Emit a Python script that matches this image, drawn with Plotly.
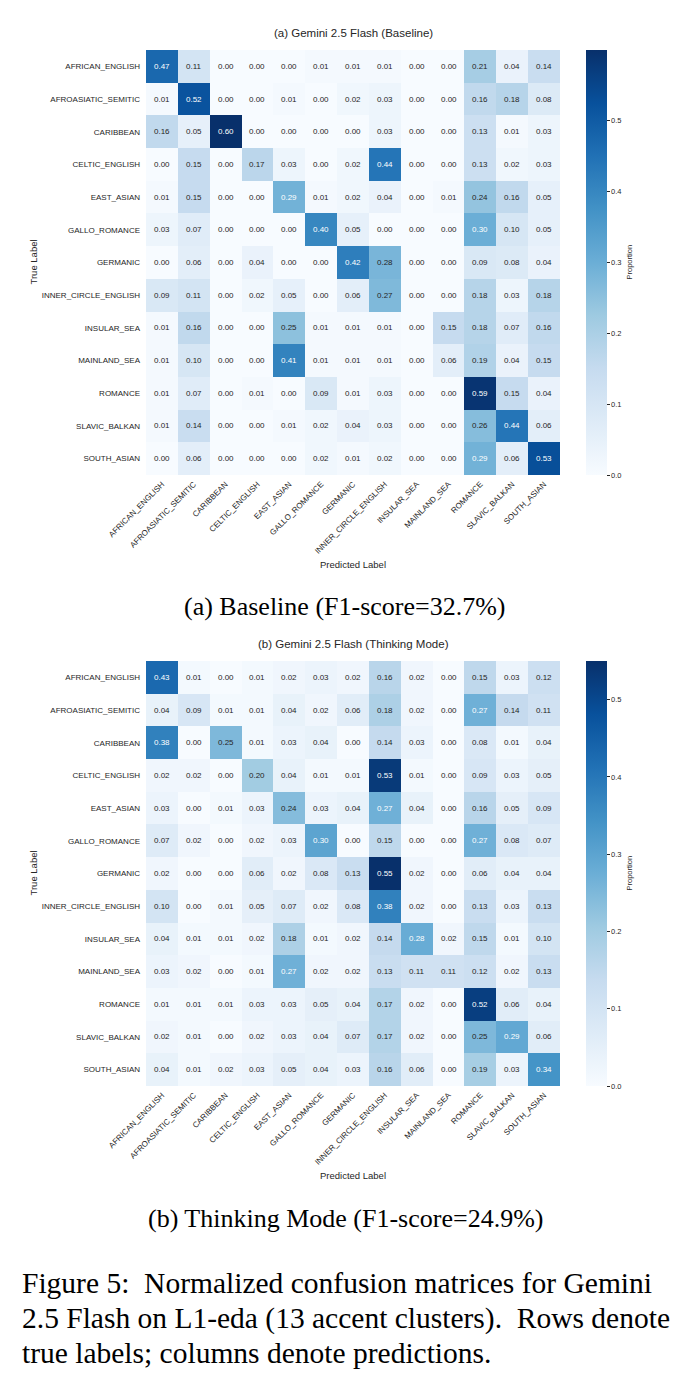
import plotly.graph_objects as go

W, H = 689, 1386

labels = ["AFRICAN_ENGLISH", "AFROASIATIC_SEMITIC", "CARIBBEAN", "CELTIC_ENGLISH",
          "EAST_ASIAN", "GALLO_ROMANCE", "GERMANIC", "INNER_CIRCLE_ENGLISH",
          "INSULAR_SEA", "MAINLAND_SEA", "ROMANCE", "SLAVIC_BALKAN", "SOUTH_ASIAN"]

baseline = [
    [0.47, 0.11, 0.00, 0.00, 0.00, 0.01, 0.01, 0.01, 0.00, 0.00, 0.21, 0.04, 0.14],
    [0.01, 0.52, 0.00, 0.00, 0.01, 0.00, 0.02, 0.03, 0.00, 0.00, 0.16, 0.18, 0.08],
    [0.16, 0.05, 0.60, 0.00, 0.00, 0.00, 0.00, 0.03, 0.00, 0.00, 0.13, 0.01, 0.03],
    [0.00, 0.15, 0.00, 0.17, 0.03, 0.00, 0.02, 0.44, 0.00, 0.00, 0.13, 0.02, 0.03],
    [0.01, 0.15, 0.00, 0.00, 0.29, 0.01, 0.02, 0.04, 0.00, 0.01, 0.24, 0.16, 0.05],
    [0.03, 0.07, 0.00, 0.00, 0.00, 0.40, 0.05, 0.00, 0.00, 0.00, 0.30, 0.10, 0.05],
    [0.00, 0.06, 0.00, 0.04, 0.00, 0.00, 0.42, 0.28, 0.00, 0.00, 0.09, 0.08, 0.04],
    [0.09, 0.11, 0.00, 0.02, 0.05, 0.00, 0.06, 0.27, 0.00, 0.00, 0.18, 0.03, 0.18],
    [0.01, 0.16, 0.00, 0.00, 0.25, 0.01, 0.01, 0.01, 0.00, 0.15, 0.18, 0.07, 0.16],
    [0.01, 0.10, 0.00, 0.00, 0.41, 0.01, 0.01, 0.01, 0.00, 0.06, 0.19, 0.04, 0.15],
    [0.01, 0.07, 0.00, 0.01, 0.00, 0.09, 0.01, 0.03, 0.00, 0.00, 0.59, 0.15, 0.04],
    [0.01, 0.14, 0.00, 0.00, 0.01, 0.02, 0.04, 0.03, 0.00, 0.00, 0.26, 0.44, 0.06],
    [0.00, 0.06, 0.00, 0.00, 0.00, 0.02, 0.01, 0.02, 0.00, 0.00, 0.29, 0.06, 0.53],
]

thinking = [
    [0.43, 0.01, 0.00, 0.01, 0.02, 0.03, 0.02, 0.16, 0.02, 0.00, 0.15, 0.03, 0.12],
    [0.04, 0.09, 0.01, 0.01, 0.04, 0.02, 0.06, 0.18, 0.02, 0.00, 0.27, 0.14, 0.11],
    [0.38, 0.00, 0.25, 0.01, 0.03, 0.04, 0.00, 0.14, 0.03, 0.00, 0.08, 0.01, 0.04],
    [0.02, 0.02, 0.00, 0.20, 0.04, 0.01, 0.01, 0.53, 0.01, 0.00, 0.09, 0.03, 0.05],
    [0.03, 0.00, 0.01, 0.03, 0.24, 0.03, 0.04, 0.27, 0.04, 0.00, 0.16, 0.05, 0.09],
    [0.07, 0.02, 0.00, 0.02, 0.03, 0.30, 0.00, 0.15, 0.00, 0.00, 0.27, 0.08, 0.07],
    [0.02, 0.00, 0.00, 0.06, 0.02, 0.08, 0.13, 0.55, 0.02, 0.00, 0.06, 0.04, 0.04],
    [0.10, 0.00, 0.01, 0.05, 0.07, 0.02, 0.08, 0.38, 0.02, 0.00, 0.13, 0.03, 0.13],
    [0.04, 0.01, 0.01, 0.02, 0.18, 0.01, 0.02, 0.14, 0.28, 0.02, 0.15, 0.01, 0.10],
    [0.03, 0.02, 0.00, 0.01, 0.27, 0.02, 0.02, 0.13, 0.11, 0.11, 0.12, 0.02, 0.13],
    [0.01, 0.01, 0.01, 0.03, 0.03, 0.05, 0.04, 0.17, 0.02, 0.00, 0.52, 0.06, 0.04],
    [0.02, 0.01, 0.00, 0.02, 0.03, 0.04, 0.07, 0.17, 0.02, 0.00, 0.25, 0.29, 0.06],
    [0.04, 0.01, 0.02, 0.03, 0.05, 0.04, 0.03, 0.16, 0.06, 0.00, 0.19, 0.03, 0.34],
]

panel_titles = ["(a) Gemini 2.5 Flash (Baseline)", "(b) Gemini 2.5 Flash (Thinking Mode)"]
subcaptions = ["(a) Baseline (F1-score=32.7%)", "(b) Thinking Mode (F1-score=24.9%)"]
caption_lines = ["Figure 5:  Normalized confusion matrices for Gemini",
                 "2.5 Flash on L1-eda (13 accent clusters).  Rows denote",
                 "true labels; columns denote predictions."]
cbar_ticks = [0.0, 0.1, 0.2, 0.3, 0.4, 0.5]

# matplotlib "Blues"
blues_hex = ["#f7fbff", "#deebf7", "#c6dbef", "#9ecae1", "#6baed6",
             "#4292c6", "#2171b5", "#08519c", "#08306b"]
colorscale = [[i / 8, c] for i, c in enumerate(blues_hex)]


def hex2rgb(h):
    return tuple(int(h[i:i + 2], 16) for i in (1, 3, 5))


def blues(f):
    f = min(max(f, 0), 1) * 8
    i = min(int(f), 7)
    t = f - i
    a, b = hex2rgb(blues_hex[i]), hex2rgb(blues_hex[i + 1])
    return [a[k] + (b[k] - a[k]) * t for k in range(3)]


def lum(rgb):
    out = []
    for c in rgb:
        c = c / 255
        out.append(c / 12.92 if c <= 0.03928 else ((c + 0.055) / 1.055) ** 2.4)
    return 0.2126 * out[0] + 0.7152 * out[1] + 0.0722 * out[2]


DARK = "#262626"
SANS = "Liberation Sans, Arial, sans-serif"
SERIF = "Liberation Serif, Times New Roman, serif"

fig = go.Figure()

# pixel geometry
px_left, px_right = 146, 560
panels = [(50, 475), (661, 1086)]
cb_x = 586

annotations = []
for p, (mat, (top, bot)) in enumerate(zip([baseline, thinking], panels)):
    xa = "x" if p == 0 else "x2"
    ya = "y" if p == 0 else "y2"
    zmax = max(max(r) for r in mat)
    fig.add_trace(go.Heatmap(
        z=mat, x=labels, y=labels, xaxis=xa, yaxis=ya,
        colorscale=colorscale, zmin=0, zmax=zmax,
        hoverinfo="skip",
        colorbar=dict(
            x=cb_x / W, xanchor="left", xpad=0, ypad=0,
            y=1 - (top + bot) / 2 / H, yanchor="middle",
            len=(bot - top) / H, lenmode="fraction",
            thickness=21, outlinewidth=0,
            tickvals=cbar_ticks, ticktext=[f"{v:.1f}" for v in cbar_ticks],
            ticks="outside", ticklen=3, tickwidth=1, tickcolor=DARK,
            tickfont=dict(family=SANS, size=7.5, color=DARK),
        ),
    ))
    for i, row in enumerate(mat):
        for j, v in enumerate(row):
            col = "white" if lum(blues(v / zmax)) < 0.408 else DARK
            annotations.append(dict(
                x=labels[j], y=labels[i], xref=xa, yref=ya, text=f"{v:.2f}",
                showarrow=False, font=dict(family=SANS, size=8, color=col)))
    # panel title
    annotations.append(dict(x=353 / W, y=1 - (top - 17) / H, xref="paper", yref="paper",
                            text=panel_titles[p], showarrow=False, yanchor="middle",
                            font=dict(family=SANS, size=11.5, color=DARK)))
    # axis titles
    annotations.append(dict(x=353 / W, y=1 - (top + 514) / H, xref="paper", yref="paper",
                            text="Predicted Label", showarrow=False, yanchor="middle",
                            font=dict(family=SANS, size=9.5, color=DARK)))
    annotations.append(dict(x=33 / W, y=1 - (top + bot) / 2 / H, xref="paper", yref="paper",
                            text="True Label", showarrow=False, textangle=-90,
                            xanchor="center", yanchor="middle",
                            font=dict(family=SANS, size=9.5, color=DARK)))
    annotations.append(dict(x=629 / W, y=1 - (top + bot) / 2 / H, xref="paper", yref="paper",
                            text="Proportion", showarrow=False, textangle=-90,
                            xanchor="center", yanchor="middle",
                            font=dict(family=SANS, size=7.5, color=DARK)))
    # sub caption
    annotations.append(dict(x=345 / W, y=1 - (top + 557) / H, xref="paper", yref="paper",
                            text=subcaptions[p], showarrow=False, yanchor="middle",
                            font=dict(family=SERIF, size=26, color="black")))

for k, line in enumerate(caption_lines):
    annotations.append(dict(x=20 / W, y=1 - (1283 + 35 * k) / H, xref="paper", yref="paper",
                            text=line, showarrow=False, xanchor="left", yanchor="middle",
                            font=dict(family=SERIF, size=29.5, color="black")))

axis_common = dict(showgrid=False, zeroline=False, showline=False, ticks="",
                   automargin=False,
                   tickfont=dict(family=SANS, size=8, color=DARK))

layout = dict(
    width=W, height=H, margin=dict(l=0, r=0, t=0, b=0, autoexpand=False),
    paper_bgcolor="white", plot_bgcolor="white", showlegend=False,
    annotations=annotations,
)
for p, (top, bot) in enumerate(panels):
    sx = "" if p == 0 else "2"
    layout["xaxis" + sx] = dict(axis_common, domain=[px_left / W, px_right / W],
                                anchor="y" + sx, tickangle=-45, ticklabelstandoff=2,
                                categoryorder="array", categoryarray=labels)
    layout["yaxis" + sx] = dict(axis_common, domain=[1 - bot / H, 1 - top / H],
                                anchor="x" + sx, autorange="reversed", ticklabelstandoff=5,
                                categoryorder="array", categoryarray=labels)

fig.update_layout(**layout)
fig.write_html("out.html")
